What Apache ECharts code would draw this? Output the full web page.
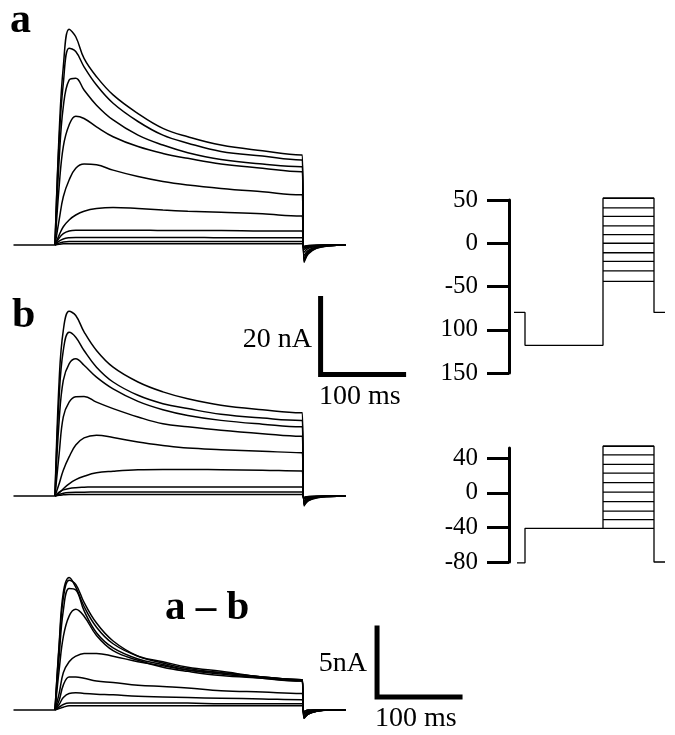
<!DOCTYPE html>
<html>
<head>
<meta charset="utf-8">
<script src="https://cdn.jsdelivr.net/npm/echarts@6.0.0/dist/echarts.min.js"></script>
<style>
  html, body { margin: 0; padding: 0; background: #fff; }
  #chart { width: 675px; height: 735px; }
</style>
</head>
<body>
<div id="chart"></div>
<script>
// holding baseline before the step (ms)
const baselineMs = [-50, 0];
// sample times (ms) for the current traces; step lasts ~298 ms
const timeMs = [0, 5, 10, 17, 25, 35, 50, 70, 100, 130, 160, 200, 250, 297, 298, 300, 305, 315, 330, 350];

// panel a: currents (nA), one row per test voltage
const panelA = [
    [0, 29.4, 46.9, 56.8, 54.8, 49.1, 44.3, 39.5, 34.6, 30.7, 28.5, 26.3, 24.8, 23.7, 23.7, -4.6, -2.4, -0.9, -0.2, 0],
    [0, 27.6, 42.5, 51.8, 50.9, 46.9, 42.1, 37.3, 32.5, 28.9, 26.8, 24.6, 23.4, 22.4, 22.4, -4.3, -2.2, -0.8, -0.2, 0],
    [0, 22.4, 36.4, 43.4, 43.9, 40.8, 36.8, 32.9, 28.9, 26.3, 24.3, 22.5, 21.3, 20.6, 20.6, -4.0, -2.0, -0.7, -0.2, 0],
    [0, 15.4, 25.9, 31.6, 33.9, 33.3, 31.1, 28.5, 25.9, 24.1, 22.8, 21.3, 20.2, 19.3, 19.3, -3.6, -1.8, -0.6, -0.1, 0],
    [0, 6.6, 12.7, 17.1, 20.2, 21.3, 21.1, 19.7, 18.0, 16.7, 15.8, 14.9, 14.0, 13.2, 13.2, -2.8, -1.4, -0.5, -0.1, 0],
    [0, 2.6, 4.8, 6.6, 7.9, 8.9, 9.6, 9.9, 9.6, 9.2, 8.9, 8.6, 8.2, 7.6, 7.6, -1.9, -0.9, -0.3, -0.1, 0],
    [0, 1.8, 3.0, 3.7, 3.9, 3.9, 3.9, 3.9, 3.9, 3.8, 3.8, 3.8, 3.7, 3.7, 3.7, -1.2, -0.6, -0.2, 0, 0],
    [0, 1.0, 1.6, 1.9, 2.0, 2.0, 2.0, 2.0, 2.0, 2.0, 2.0, 1.9, 1.9, 1.9, 1.9, -0.8, -0.4, -0.1, 0, 0],
    [0, 0.5, 0.8, 0.9, 0.9, 0.9, 0.9, 0.9, 0.9, 0.9, 0.9, 0.9, 0.9, 0.9, 0.9, -0.5, -0.2, -0.1, 0, 0],
    [0, 0.2, 0.3, 0.3, 0.3, 0.3, 0.3, 0.3, 0.3, 0.3, 0.3, 0.3, 0.3, 0.3, 0.3, -0.3, -0.1, 0, 0, 0],
];

// panel b
const panelB = [
    [0, 30.4, 43.6, 48.6, 47.5, 43.2, 38.3, 33.9, 30.0, 27.4, 25.6, 23.9, 22.7, 21.9, 21.9, -2.6, -1.3, -0.5, -0.1, 0],
    [0, 26.1, 38.3, 43.1, 41.8, 38.3, 33.9, 30.0, 26.5, 24.3, 23.0, 21.5, 20.5, 19.9, 19.9, -2.4, -1.2, -0.4, -0.1, 0],
    [0, 19.9, 30.4, 34.8, 36.1, 34.4, 31.3, 28.2, 24.9, 22.7, 21.2, 19.9, 18.9, 18.2, 18.2, -2.2, -1.1, -0.4, -0.1, 0],
    [0, 11.1, 20.8, 24.7, 26.1, 26.2, 24.7, 23.0, 20.8, 19.0, 18.2, 17.3, 16.4, 15.7, 15.7, -2.0, -1.0, -0.3, -0.1, 0],
    [0, 3.2, 6.8, 10.3, 13.4, 15.3, 16.0, 15.4, 14.2, 13.3, 12.6, 12.2, 11.8, 11.4, 11.4, -1.6, -0.8, -0.3, 0, 0],
    [0, 0.8, 1.9, 3.2, 4.3, 5.2, 6.1, 6.5, 6.9, 7.0, 7.0, 6.9, 6.8, 6.6, 6.6, -1.2, -0.6, -0.2, 0, 0],
    [0, 1.0, 1.6, 2.0, 2.2, 2.3, 2.4, 2.4, 2.4, 2.4, 2.4, 2.4, 2.4, 2.4, 2.4, -0.8, -0.4, -0.1, 0, 0],
    [0, 0.4, 0.7, 0.9, 1.0, 1.0, 1.05, 1.05, 1.05, 1.05, 1.05, 1.05, 1.05, 1.05, 1.05, -0.5, -0.2, -0.1, 0, 0],
    [0, 0.2, 0.3, 0.4, 0.4, 0.4, 0.4, 0.4, 0.4, 0.4, 0.4, 0.4, 0.4, 0.4, 0.4, -0.3, -0.1, 0, 0, 0],
];

// a - b difference currents
const panelAB = [
    [0, 4.8, 8.5, 9.6, 8.9, 7.5, 6.0, 4.8, 3.9, 3.5, 3.1, 2.8, 2.4, 2.2, 2.2, -0.6, -0.3, -0.1, 0, 0],
    [0, 4.6, 8.1, 9.4, 9.1, 7.8, 6.3, 5.0, 3.9, 3.4, 3.0, 2.7, 2.4, 2.2, 2.2, -0.6, -0.3, -0.1, 0, 0],
    [0, 3.9, 7.2, 8.8, 8.7, 7.2, 5.6, 4.5, 3.7, 3.3, 2.9, 2.6, 2.3, 2.1, 2.1, -0.5, -0.3, -0.1, 0, 0],
    [0, 2.9, 5.3, 6.8, 7.3, 6.8, 5.4, 4.3, 3.6, 3.1, 2.8, 2.5, 2.3, 2.1, 2.1, -0.5, -0.2, -0.1, 0, 0],
    [0, 1.2, 2.7, 3.5, 3.9, 4.1, 4.1, 3.9, 3.5, 3.2, 2.9, 2.7, 2.4, 2.2, 2.2, -0.4, -0.2, 0, 0, 0],
    [0, 0.7, 1.8, 2.4, 2.4, 2.3, 2.1, 2.0, 1.8, 1.7, 1.6, 1.4, 1.3, 1.2, 1.2, -0.3, -0.1, 0, 0, 0],
    [0, 0.4, 0.9, 1.2, 1.25, 1.2, 1.15, 1.1, 1.0, 0.95, 0.9, 0.85, 0.8, 0.75, 0.75, -0.2, -0.1, 0, 0, 0],
    [0, 0.2, 0.4, 0.5, 0.5, 0.5, 0.5, 0.5, 0.5, 0.5, 0.5, 0.45, 0.45, 0.45, 0.45, -0.1, 0, 0, 0, 0],
    [0, 0.1, 0.2, 0.3, 0.3, 0.3, 0.3, 0.3, 0.3, 0.3, 0.3, 0.3, 0.3, 0.3, 0.3, -0.1, 0, 0, 0, 0],
];

// scale bars: [ms, nA]
const scaleBarB = [[320, 52], [320, 32], [420, 32]];
const scaleBarAB = [[388, 5.95], [388, 0.95], [488, 0.95]];

// voltage protocols (schematic time units, mV)
const prot1Time = [5, 16, 16, 94, 94, 145, 145, 156];
const prot1Volt = [-80, -80, -118, -118, 52, 52, -80, -80];
const prot1Steps = [52, 41, 31, 20, 10, 0, -11, -21, -32, -44];
const prot1Ticks = [50, 0, -50, -100, -150];
const prot1TickLabels = ["50", "0", "-50", "100", "150"];

const prot2Time = [8, 16, 16, 94, 94, 145, 145, 156];
const prot2Volt = [-81, -81, -41, -41, 54, 54, -80, -80];
const prot2Steps = [54, 44, 33, 23, 12, 1, -10, -21, -31, -41];
const prot2Ticks = [40, 0, -40, -80];
const prot2TickLabels = ["40", "0", "-40", "-80"];

const stepWindow = [94, 145];

const serif = "'Liberation Serif', 'DejaVu Serif', serif";
const PX_PER_MS = 0.83;
const traceLeft = 55 - 50 * PX_PER_MS;
const traceWidth = 540 * PX_PER_MS;

function traceGrid(baseline, pxPerNa, yMin, yMax) {
    return {
        left: traceLeft,
        width: traceWidth,
        top: baseline - yMax * pxPerNa,
        height: (yMax - yMin) * pxPerNa,
        outerBoundsMode: "none",
        containLabel: false,
    };
}

const grids = [
    traceGrid(245, 3.8, -10, 60),
    traceGrid(496, 3.8, -10, 60),
    traceGrid(710, 13.8, -2, 12),
    { left: 509, top: 200, width: 161, height: 173, outerBoundsMode: "none", containLabel: false },
    { left: 509, top: 448, width: 161, height: 114, outerBoundsMode: "none", containLabel: false },
];

const hiddenX = (i) => ({ type: "value", gridIndex: i, min: -50, max: 490, show: false });
const xAxes = [
    hiddenX(0), hiddenX(1), hiddenX(2),
    { type: "value", gridIndex: 3, min: 0, max: 161, show: false },
    { type: "value", gridIndex: 4, min: 0, max: 161, show: false },
];

function protocolAxis(i, min, max, ticks, labels) {
    return {
        type: "value",
        gridIndex: i,
        min: min,
        max: max,
        splitLine: { show: false },
        axisLine: { show: true, lineStyle: { color: "#000", width: 3 }, onZero: false },
        axisTick: {
            show: true,
            length: 22,
            inside: false,
            customValues: ticks,
            lineStyle: { color: "#000", width: 3 },
        },
        axisLabel: {
            show: true,
            customValues: ticks,
            margin: 31,
            color: "#000",
            fontFamily: serif,
            fontSize: 25,
            formatter: (v) => labels[ticks.indexOf(v)] ?? "",
        },
    };
}

const yAxes = [
    { type: "value", gridIndex: 0, min: -10, max: 60, show: false },
    { type: "value", gridIndex: 1, min: -10, max: 60, show: false },
    { type: "value", gridIndex: 2, min: -2, max: 12, show: false },
    protocolAxis(3, -150, 50, prot1Ticks, prot1TickLabels),
    protocolAxis(4, -80, 52, prot2Ticks, prot2TickLabels),
];

const lineBase = {
    type: "line",
    symbol: "none",
    silent: true,
    clip: false,
    lineStyle: { color: "#000", width: 1.5 },
};

const series = [];

function addTraces(rows, axis) {
    series.push({
        ...lineBase,
        xAxisIndex: axis,
        yAxisIndex: axis,
        data: baselineMs.map((t) => [t, 0]),
    });
    rows.forEach((row) => {
        series.push({
            ...lineBase,
            xAxisIndex: axis,
            yAxisIndex: axis,
            smooth: 0.4,
            data: timeMs.map((t, i) => [t, row[i]]),
        });
    });
}
addTraces(panelA, 0);
addTraces(panelB, 1);
addTraces(panelAB, 2);

const barStyle = { color: "#000", width: 5, cap: "square", join: "miter" };
series.push({ ...lineBase, xAxisIndex: 1, yAxisIndex: 1, lineStyle: barStyle, data: scaleBarB });
series.push({ ...lineBase, xAxisIndex: 2, yAxisIndex: 2, lineStyle: barStyle, data: scaleBarAB });

function addProtocol(axis, times, volts, steps) {
    series.push({
        ...lineBase,
        xAxisIndex: axis,
        yAxisIndex: axis,
        lineStyle: { color: "#000", width: 1.3 },
        data: times.map((t, i) => [t, volts[i]]),
    });
    steps.forEach((v) => {
        series.push({
            ...lineBase,
            xAxisIndex: axis,
            yAxisIndex: axis,
            lineStyle: { color: "#000", width: 1.3 },
            data: stepWindow.map((t) => [t, v]),
        });
    });
}
addProtocol(3, prot1Time, prot1Volt, prot1Steps);
addProtocol(4, prot2Time, prot2Volt, prot2Steps);

const textItem = (text, x, y, size, bold, align) => ({
    type: "text",
    x: x,
    y: y,
    silent: true,
    style: {
        text: text,
        fill: "#000",
        font: (bold ? "bold " : "") + size + "px " + serif,
        align: align || "left",
        verticalAlign: "middle",
    },
});

const option = {
    animation: false,
    backgroundColor: "#fff",
    grid: grids,
    xAxis: xAxes,
    yAxis: yAxes,
    series: series,
    graphic: [
        textItem("a", 10, 21, 42, true),
        textItem("b", 12, 316, 42, true),
        textItem("a – b", 165, 608, 41, true),
        textItem("20 nA", 312, 340, 28, false, "right"),
        textItem("100 ms", 319, 397, 28, false),
        textItem("5nA", 367, 664, 28, false, "right"),
        textItem("100 ms", 375, 719, 28, false),
    ],
};

const chart = echarts.init(document.getElementById("chart"), null, { renderer: "canvas" });
chart.setOption(option);
</script>
</body>
</html>
